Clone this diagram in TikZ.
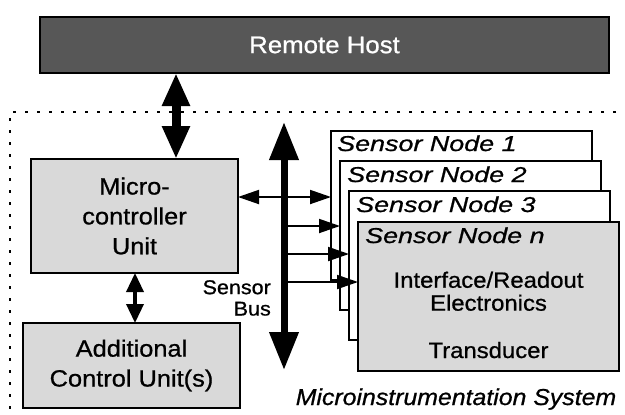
\documentclass[tikz,border=0pt]{standalone}
\usepackage{fontspec}
\setmainfont[FakeStretch=1.08,FakeBold=0.8]{Liberation Sans}
\newfontfamily\nodelabelfont[FakeStretch=1.25,FakeBold=0.8]{Liberation Sans}
\usetikzlibrary{arrows.meta}
\tikzset{
  box/.style={draw=black, line width=2.2bp, outer sep=0pt, inner sep=0pt},
  hostbox/.style={box, line width=2.6bp, fill=black!66, minimum width=569bp, minimum height=56bp, text=white, font=\fontsize{24}{28}\selectfont},
  greybox/.style={box, fill=black!15, align=center, font=\fontsize{23.6}{30}\selectfont},
  sensorbox/.style={box, fill=white, minimum width=261bp, minimum height=149bp},
  nodelabel/.style={inner sep=0pt, anchor=base west, font=\nodelabelfont\itshape\fontsize{21.6}{24}\selectfont},
  bodytext/.style={inner sep=0pt, align=center, font=\fontsize{22.2}{23}\selectfont},
  buslabel/.style={inner sep=0pt, align=right, font=\fontsize{20}{21.5}\selectfont},
  captiontext/.style={inner sep=0pt, font=\itshape\fontsize{23.1}{26}\selectfont},
  frameline/.style={line width=2.8bp, dash pattern=on 2.8bp off 9.2bp},
  bigarrow/.style={line width=9bp, {Triangle[length=33bp,width=26bp]}-{Triangle[length=33bp,width=26bp]}},
  midarrow/.style={line width=3.5bp, {Triangle[length=19bp,width=17bp]}-{Triangle[length=19bp,width=17bp]}},
  busarrow/.style={line width=7bp, {Triangle[length=38bp,width=28bp]}-{Triangle[length=38bp,width=28bp]}},
  thinline/.style={line width=1.9bp},
  thintip/.tip={Triangle[length=21bp,width=14bp]}
}
\begin{document}
\begin{tikzpicture}[x=1bp,y=-1bp]
\useasboundingbox (0,0) rectangle (625,414);
% dotted system frame
\draw[frameline] (640,112) -- (10,112) -- (10,430);
% remote host
\node[hostbox] (host) at (324.5,45) {Remote Host};
% controller boxes
\node[greybox, minimum width=207bp, minimum height=114bp] (micro) at (134.5,216) {Micro-\\controller\\Unit};
\node[greybox, minimum width=217bp, minimum height=85bp] (add) at (131.5,365.5) {Additional\\Control Unit(s)};
% sensor node stack
\node[sensorbox] (n1) at (461.5,205.5) {};
\node[sensorbox] (n2) at (470.5,235.5) {};
\node[sensorbox] (n3) at (479.5,265.5) {};
\node[sensorbox, fill=black!15] (nn) at (488.5,296.5) {};
\node[nodelabel, xshift=6bp, yshift=-20bp] (l1) at (n1.north west) {Sensor Node 1};
\node[nodelabel, xshift=7bp, yshift=-21bp] (l2) at (n2.north west) {Sensor Node 2};
\node[nodelabel, xshift=7bp, yshift=-21bp] (l3) at (n3.north west) {Sensor Node 3};
\node[nodelabel, xshift=7bp, yshift=-21bp] (ln) at (nn.north west) {Sensor Node n};
\node[bodytext, anchor=north] (nif) at (488.5,271.5) {Interface/Readout\\Electronics};
\node[bodytext, anchor=base] (ntr) at (488.5,358) {Transducer};
% labels
\node[buslabel, anchor=north east] (sbus) at (271,280) {Sensor\\Bus};
\node[captiontext, anchor=base] (cap) at (456,405) {Microinstrumentation System};
% connectors
\coordinate (hmx) at (176,0);
\draw[bigarrow] (host.south -| hmx) -- (micro.north -| hmx);
\coordinate (max) at (135,0);
\draw[midarrow] (micro.south -| max) -- (add.north -| max);
\coordinate (bt) at (284,122);
\coordinate (bb) at (284,370);
\draw[busarrow] (bt) -- (bb);
\coordinate (hy) at (0,197);
\draw[thinline, thintip-thintip] (micro.east |- hy) -- (n1.west |- hy);
\coordinate (b2) at (284,226);
\coordinate (b3) at (284,254);
\coordinate (bn) at (284,282);
\draw[thinline, -thintip] (b2) -- (b2 -| n2.west);
\draw[thinline, -thintip] (b3) -- (b3 -| n3.west);
\draw[thinline, -thintip] (bn) -- (bn -| nn.west);
\end{tikzpicture}
\end{document}
